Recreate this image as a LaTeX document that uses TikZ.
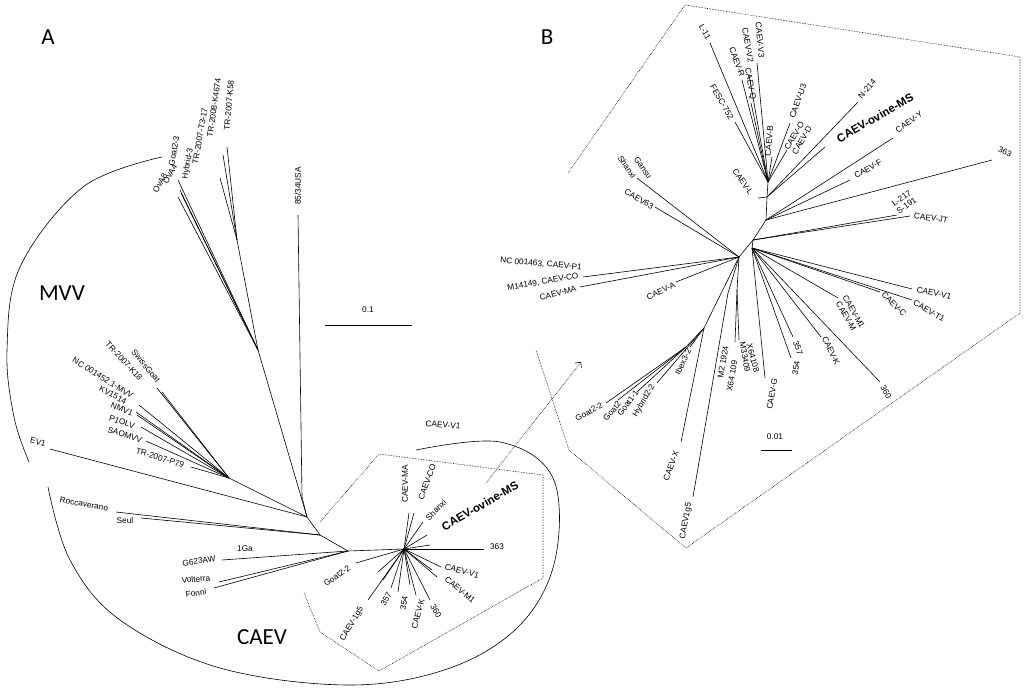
\documentclass[tikz,border=0pt]{standalone}
\usepackage{fontspec}
\setmainfont{Liberation Sans}
\newfontfamily\carlfont{Carlito}
\usetikzlibrary{arrows.meta}
\tikzset{br/.style={line width=0.6pt},
 lbl/.style={inner sep=0pt,font=\fontsize{8.3}{8.5}\selectfont},
 lblb/.style={inner sep=0pt,font=\fontsize{11.5}{12}\selectfont},
 dsh/.style={densely dotted,line width=0.6pt},
 title/.style={inner sep=0pt,font=\carlfont\fontsize{23}{23}\selectfont}}
\newcommand\lf[6]{\coordinate (#1) at (#3); \draw[br] (#2) -- (#1); \node[lbl,rotate=#5] (#1L) at (#4) {#6};}
\newcommand\lfb[6]{\coordinate (#1) at (#3); \draw[br] (#2) -- (#1); \node[lblb,rotate=#5] (#1L) at (#4) {#6};}
\begin{document}
\begin{tikzpicture}[x=1pt,y=-1pt]
\useasboundingbox (0,0) rectangle (1024,696);
% ---------- Panel A ----------
\node[title] (tA) at (48,37) {A};
\node[title] (tM) at (62,293) {MVV};
\node[title] (tC) at (262,637) {CAEV};
\coordinate (J3) at (307,517); \coordinate (J2) at (320,535);
\coordinate (J1) at (348,551); \coordinate (HC) at (404,549);
\coordinate (MS) at (229,478); \coordinate (M2) at (258,350); \coordinate (MT) at (237,240);
\coordinate (V8) at (302,497);
\draw[br] (HC)--(J1)--(J2)--(J3)--(V8); \draw[br] (J3)--(M2); \draw[br] (J3)--(MS); \draw[br] (M2)--(MT);
\lf{oa8}{M2}{178,197}{160,183}{60}{OvA8}
\lf{oa4}{M2}{181,193}{170,174}{60}{OvA4}
\lf{g23}{M2}{180,190}{174,151}{80}{Goat2-3}
\lf{hy3}{M2}{178,180}{188,164}{80}{Hybrid-3}
\lf{t317}{MT}{220,178}{200,136}{80}{TR-2007-T3-17}
\lf{k4674}{MT}{223,155}{214,108}{82}{TR-2008-K4674}
\lf{k58}{MT}{227,147}{229,105}{85}{TR-2007-K58}
\lf{usa}{V8}{298,215}{298,186}{90}{85/34USA}
\lf{swg}{MS}{162,392}{146,366}{-50}{SwissGoat}
\lf{k18}{MS}{157,388}{124,361}{-47}{TR-2007-K18}
\lf{nc}{MS}{139,405}{103,378}{-32}{NC 001452.1-MVV}
\lf{kv}{MS}{136,412}{113,395}{-28}{KV1514}
\lf{nmv}{MS}{137,415}{122,409}{-22}{NMV1}
\lf{p1}{MS}{141,427}{122,422}{-18}{P1OLV}
\lf{sao}{MS}{146,441}{125,435}{-18}{SAOMVV}
\lf{p79}{MS}{191,467}{160,458}{-17}{TR-2007-P79}
\lf{ev1}{J3}{50,449}{38,442}{-15}{EV1}
\lf{roc}{J2}{116,512}{84,504}{-10}{Roccaverano}
\lf{seu}{J2}{141,518}{125,521}{0}{Seul}
\node[lbl] (oneGa) at (245,549) {1Ga};
\lf{g623}{J1}{222,560}{199,561}{8}{G623AW}
\lf{vol}{J1}{219,582}{196,579}{5}{Volterra}
\lf{fon}{J1}{214,588}{196,593}{8}{Fonni}
\lf{cma}{HC}{409,513}{405,484}{90}{CAEV-MA}
\lf{cco}{HC}{414,513}{427,482}{70}{CAEV-CO}
\lf{shx}{HC}{423,522}{436,510}{45}{Shanxi}
\lfb{oms}{HC}{427,535}{480,506}{30}{\bfseries CAEV-ovine-MS}
\lf{c363}{HC}{484,549}{497,547}{0}{363}
\lf{cv1}{HC}{441,567}{462,571}{-15}{CAEV-V1}
\lf{cm1}{HC}{437,577}{460,590}{-40}{CAEV-M1}
\lf{c360}{HC}{430,600}{436,611}{-60}{360}
\lf{ck}{HC}{416,595}{418,614}{75}{CAEV-K}
\lf{c354}{HC}{410,585}{404,603}{80}{354}
\lf{c357}{HC}{391,588}{386,599}{60}{357}
\lf{c1g5}{HC}{368,600}{352,624}{60}{CAEV-1g5}
\lf{g22}{HC}{356,563}{337,576}{35}{Goat2-2}
\draw[br] (HC)--(430,545) (HC)--(378,572) (HC)--(383,580) (HC)--(432,570) (HC)--(398,592);
\node[lbl,rotate=-5] (fv1) at (443,425) {CAEV-V1};
\node[lbl] (sb1) at (368,310) {0.1};
\draw[br] (325,325)--(412,325);
\draw[dsh] (320,522)--(379,454)--(543,475)--(543,578)--(379,671)--(320,632)--(304,593);
\draw[br] plot[smooth,tension=0.6] coordinates {(162,157) (83,187) (20,267) (7,350) (14,417) (29,462)};
\draw[br] plot[smooth,tension=0.6] coordinates {(416,450) (500,442) (553,478) (555,560) (520,625) (450,668) (350,685) (220,668) (120,620) (70,560) (48,487)};
\coordinate (arS) at (486,483); \coordinate (arE) at (581,362);
\draw[dsh,-{Straight Barb[length=4pt]}] (arS)--(arE);
% ---------- Panel B ----------
\node[title] (tB) at (547,37) {B};
\draw[dsh] (568,173)--(685,5)--(1020,57)--(1020,313)--(686,548)--(569,450)--(536,350);
\coordinate (b1) at (768,182); \coordinate (b2) at (767,197); \coordinate (b3) at (766,220);
\coordinate (b4) at (753,240); \coordinate (b5) at (739,257); \coordinate (b6) at (752,248);
\coordinate (bg1) at (704,328); \coordinate (bg2) at (686,347); \coordinate (bx) at (728,293);
\coordinate (bm) at (737,290);
\draw[br] (b1)--(b2)--(b3)--(b4)--(b5); \draw[br] (b4)--(b6);
\draw[br] (b5)--(bg1)--(bg2); \draw[br] (b5)--(bx); \draw[br] (b5)--(bm);
\lf{l11}{b1}{710,43}{705,32}{-60}{L-11}
\lf{fesc}{b1}{735,122}{722,102}{-60}{FESC-752}
\lf{cr}{b1}{742,80}{737,62}{-70}{CAEV-R}
\lf{cv2}{b1}{749,75}{748,45}{-80}{CAEV-V2}
\lf{cq}{b1}{751,103}{750,84}{-80}{CAEV-Q}
\lf{cv3}{b1}{757,63}{760,40}{-85}{CAEV-V3}
\lf{cb}{b1}{772,157}{769,141}{85}{CAEV-B}
\lf{cu3}{b1}{790,123}{798,101}{70}{CAEV-U3}
\lf{cod}{b1}{787,150}{798,138}{60}{\shortstack{CAEV-O\\CAEV-D}}
\lf{cl}{b2}{758,198}{743,182}{-55}{CAEV-L}
\lf{n214}{b2}{858,102}{867,89}{50}{N-214}
\lfb{bms}{b2}{825,147}{875,118}{30}{\bfseries CAEV-ovine-MS}
\lf{cy}{b3}{893,138}{909,122}{35}{CAEV-Y}
\lf{cf}{b3}{850,180}{868,169}{30}{CAEV-F}
\lf{b363}{b3}{992,160}{1005,152}{-25}{363}
\lf{l217}{b4}{897,215}{904,202}{35}{\shortstack{L-217\\S-191}}
\lf{cjt}{b4}{910,216}{931,218}{-8}{CAEV-JT}
\lf{gan}{b5}{637,178}{643,168}{-55}{Gansu}
\node[lbl,rotate=-55] (shxB) at (627,167) {Shanxi};
\lf{c63}{b5}{655,207}{639,199}{-30}{CAEV63}
\lf{ncp}{b5}{583,277}{541,264}{-5}{NC 001463, CAEV-P1}
\node[lbl,rotate=10] (m14) at (543,282) {M14149, CAEV-CO};
\lf{bma}{b5}{580,287}{558,293}{15}{CAEV-MA}
\lf{ca}{b5}{676,282}{661,291}{25}{CAEV-A}
\lf{bg22}{bg2}{606,403}{589,412}{30}{Goat2-2}
\lf{bgt2}{bg2}{618,400}{612,411}{50}{Goat2}
\lf{bg11}{bg2}{637,392}{628,403}{55}{Goat1-1}
\lf{bhy}{bg1}{657,383}{644,401}{60}{Hybrid2-2}
\lf{bib}{bg1}{690,347}{683,362}{65}{Ibex3-2}
\lf{cx}{bg1}{681,442}{671,466}{70}{CAEV-X}
\lf{c1g}{bx}{693,497}{686,521}{80}{CAEV1g5}
\lf{m2a}{bm}{735,342}{723,362}{80}{M2 1924}
\node[lbl,rotate=80] (x64) at (732,376) {X64 109};
\lf{m33}{bm}{739,340}{745,357}{-80}{M33409}
\node[lbl,rotate=-75] (x64b) at (753,358) {X64108};
\lf{cg}{b6}{765,378}{772,394}{80}{CAEV-G}
\lf{b357}{b6}{793,337}{798,348}{-70}{357}
\lf{b354}{b6}{791,358}{796,368}{80}{354}
\lf{bck}{b6}{821,337}{831,351}{-65}{CAEV-K}
\lf{b360}{b6}{880,382}{886,392}{-60}{360}
\lf{bcm}{b6}{838,298}{850,314}{-60}{\shortstack{CAEV-M1\\CAEV-M}}
\lf{bcc}{b6}{880,292}{894,304}{-45}{CAEV-C}
\lf{bv1}{b6}{912,289}{934,293}{-12}{CAEV-V1}
\lf{bt1}{b6}{912,300}{929,311}{-30}{CAEV-T1}
\node[lbl] (sb2) at (775,437) {0.01};
\draw[br] (761,450)--(792,450);
\end{tikzpicture}
\end{document}
